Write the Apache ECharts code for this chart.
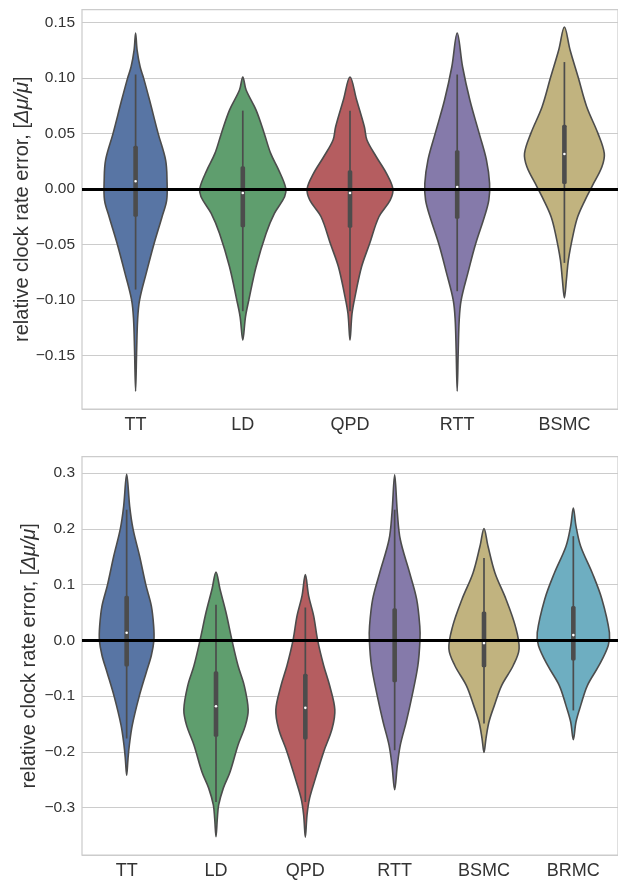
<!DOCTYPE html>
<html>
<head>
<meta charset="utf-8">
<script src="https://cdn.jsdelivr.net/npm/echarts@6/dist/echarts.min.js"></script>
<style>
html, body { margin: 0; padding: 0; background: #fff; }
#main { width: 618px; height: 880px; }
</style>
</head>
<body>
<div id="main"></div>
<script>
var topCats = ['TT', 'LD', 'QPD', 'RTT', 'BSMC'];
var botCats = ['TT', 'LD', 'QPD', 'RTT', 'BSMC', 'BRMC'];

var topTicks = [-0.15, -0.10, -0.05, 0, 0.05, 0.10, 0.15];
var topTickLabels = ['\u22120.15', '\u22120.10', '\u22120.05', '0.00', '0.05', '0.10', '0.15'];
var botTicks = [-0.3, -0.2, -0.1, 0, 0.1, 0.2, 0.3];
var botTickLabels = ['\u22120.3', '\u22120.2', '\u22120.1', '0.0', '0.1', '0.2', '0.3'];

var topColors = ['#5875a4', '#5f9e6e', '#b55d60', '#857aaa', '#c1b37f'];
var botColors = ['#5875a4', '#5f9e6e', '#b55d60', '#857aaa', '#c1b37f', '#6eaec1'];

// violin outlines, top to bottom: [value, half width as share of the category band]
var topTT = [[0.1403, 0], [0.125, 0.014], [0.11, 0.042], [0.10, 0.074], [0.08, 0.13], [0.05, 0.21], [0.026, 0.28], [0.008, 0.293], [-0.01, 0.29], [-0.025, 0.247], [-0.05, 0.17], [-0.0755, 0.10], [-0.10, 0.037], [-0.1175, 0.019], [-0.144, 0.01], [-0.182, 0]];
var topLD = [[0.1007, 0], [0.089, 0.031], [0.071, 0.124], [0.05, 0.20], [0.032, 0.26], [0.017, 0.335], [0.001, 0.40], [-0.007, 0.39], [-0.022, 0.295], [-0.04, 0.217], [-0.07, 0.124], [-0.10, 0.056], [-0.115, 0.025], [-0.136, 0]];
var topQPD = [[0.1007, 0], [0.08, 0.062], [0.056, 0.134], [0.044, 0.158], [0.029, 0.245], [0.014, 0.34], [0, 0.40], [-0.01, 0.375], [-0.025, 0.27], [-0.05, 0.18], [-0.07, 0.108], [-0.094, 0.053], [-0.112, 0.019], [-0.136, 0]];
var topRTT = [[0.1403, 0], [0.11, 0.05], [0.08, 0.118], [0.05, 0.205], [0.026, 0.273], [0.005, 0.302], [-0.01, 0.295], [-0.025, 0.254], [-0.05, 0.17], [-0.0755, 0.10], [-0.10, 0.037], [-0.1175, 0.019], [-0.144, 0.01], [-0.182, 0]];
var topBSMC = [[0.1457, 0], [0.125, 0.053], [0.10, 0.13], [0.074, 0.208], [0.05, 0.313], [0.032, 0.372], [0.02, 0.35], [0.0024, 0.258], [-0.01, 0.193], [-0.025, 0.124], [-0.04, 0.084], [-0.064, 0.037], [-0.0815, 0.019], [-0.098, 0]];

var botTT = [[0.298, 0], [0.24, 0.034], [0.20, 0.071], [0.151, 0.145], [0.10, 0.214], [0.062, 0.276], [0.026, 0.302], [0, 0.305], [-0.027, 0.276], [-0.057, 0.22], [-0.10, 0.141], [-0.152, 0.063], [-0.188, 0.03], [-0.212, 0.015], [-0.242, 0]];
var botLD = [[0.1226, 0], [0.0917, 0.045], [0.05, 0.112], [0, 0.179], [-0.045, 0.246], [-0.081, 0.316], [-0.124, 0.36], [-0.152, 0.33], [-0.188, 0.246], [-0.236, 0.157], [-0.265, 0.082], [-0.295, 0.03], [-0.319, 0.015], [-0.352, 0]];
var botQPD = [[0.118, 0], [0.08, 0.037], [0.044, 0.093], [0, 0.138], [-0.045, 0.205], [-0.081, 0.272], [-0.124, 0.33], [-0.158, 0.30], [-0.20, 0.205], [-0.248, 0.112], [-0.283, 0.048], [-0.313, 0.019], [-0.353, 0]];
var botRTT = [[0.297, 0], [0.229, 0.03], [0.181, 0.063], [0.121, 0.168], [0.074, 0.246], [0.026, 0.281], [0, 0.283], [-0.045, 0.26], [-0.10, 0.194], [-0.146, 0.13], [-0.188, 0.063], [-0.224, 0.03], [-0.268, 0]];
var botBSMC = [[0.2006, 0], [0.169, 0.045], [0.121, 0.123], [0.074, 0.246], [0.026, 0.35], [-0.015, 0.393], [-0.045, 0.327], [-0.081, 0.197], [-0.117, 0.115], [-0.146, 0.056], [-0.176, 0.022], [-0.201, 0]];
var botBRMC = [[0.2375, 0], [0.205, 0.03], [0.169, 0.082], [0.121, 0.212], [0.074, 0.32], [0.014, 0.404], [-0.0095, 0.39], [-0.045, 0.287], [-0.081, 0.157], [-0.117, 0.082], [-0.146, 0.03], [-0.178, 0]];

// box stats: [lower whisker, q1, median, q3, upper whisker]
var topStats = [
  [-0.0905, -0.025, 0.007, 0.039, 0.103],
  [-0.11, -0.0345, -0.0036, 0.0204, 0.0705],
  [-0.11, -0.0348, -0.0036, 0.0168, 0.0705],
  [-0.092, -0.0267, 0.0018, 0.0348, 0.103],
  [-0.0665, 0.0045, 0.0315, 0.0579, 0.1142]
];
var botStats = [
  [-0.176, -0.047, 0.0137, 0.08, 0.2345],
  [-0.29, -0.173, -0.118, -0.0554, 0.064],
  [-0.29, -0.178, -0.121, -0.06, 0.059],
  [-0.197, -0.075, 0, 0.0577, 0.2345],
  [-0.149, -0.048, -0.0048, 0.0518, 0.148],
  [-0.1256, -0.036, 0.0095, 0.0619, 0.187]
];

var topShapes = [topTT, topLD, topQPD, topRTT, topBSMC];
var botShapes = [botTT, botLD, botQPD, botRTT, botBSMC, botBRMC];

var edge = '#4c4c4c';
var font = 'Liberation Sans, Arial, sans-serif';

function violinItem(shapes, stats, colors) {
  return function (params, api) {
    var i = api.value(0);
    var band = api.size([1, 0])[0];
    var cx = api.coord([i, 0])[0];
    var outline = shapes[i];
    var right = [], left = [];
    outline.forEach(function (p, k) {
      var y = api.coord([i, p[0]])[1];
      right.push([cx + p[1] * band, y]);
      if (k > 0 && k < outline.length - 1) left.unshift([cx - p[1] * band, y]);
    });
    var s = stats[i];
    var yLo = api.coord([i, s[0]])[1], yQ1 = api.coord([i, s[1]])[1];
    var yMed = api.coord([i, s[2]])[1], yQ3 = api.coord([i, s[3]])[1];
    var yHi = api.coord([i, s[4]])[1];
    return {
      type: 'group',
      children: [
        { type: 'polygon', shape: { points: right.concat(left), smooth: 0.35 },
          style: { fill: colors[i], stroke: edge, lineWidth: 1.6 } },
        { type: 'line', shape: { x1: cx, y1: yHi, x2: cx, y2: yLo },
          style: { stroke: edge, lineWidth: 1.7 } },
        { type: 'rect', shape: { x: cx - 2.3, y: yQ3, width: 4.6, height: yQ1 - yQ3, r: 1.5 },
          style: { fill: edge } },
        { type: 'circle', shape: { cx: cx, cy: yMed, r: 1.3 }, style: { fill: '#fff' } }
      ]
    };
  };
}

function tickFormatter(ticks, labels) {
  return function (v) {
    for (var k = 0; k < ticks.length; k++) {
      if (Math.abs(ticks[k] - v) < 1e-9) return labels[k];
    }
    return '';
  };
}

function yAxisFor(gridIndex, min, max, ticks, labels, gap) {
  return {
    gridIndex: gridIndex, type: 'value', min: min, max: max, splitNumber: 7,
    name: 'relative clock rate error, [{i|\u0394\u03bc/\u03bc}]',
    nameLocation: 'middle', nameRotate: 90, nameGap: gap, nameMoveOverlap: false,
    nameTextStyle: { fontSize: 20, color: '#333', fontFamily: font,
      rich: { i: { fontSize: 20, fontStyle: 'italic', color: '#333', fontFamily: font } } },
    axisLine: { show: false }, axisTick: { show: false },
    axisLabel: { fontSize: 15.5, color: '#333', fontFamily: font, margin: 7,
      showMinLabel: false, showMaxLabel: false, formatter: tickFormatter(ticks, labels) },
    splitLine: { show: true, lineStyle: { color: '#cccccc', width: 1 } }
  };
}

function xAxisFor(gridIndex, cats) {
  return {
    gridIndex: gridIndex, type: 'category', data: cats, boundaryGap: true,
    axisLine: { show: false }, axisTick: { show: false }, splitLine: { show: false },
    axisLabel: { fontSize: 18, color: '#333', fontFamily: font, margin: 7 }
  };
}

var chart = echarts.init(document.getElementById('main'), null, { renderer: 'canvas' });
chart.setOption({
  backgroundColor: '#fff',
  animation: false,
  grid: [
    { left: 82, top: 9.5, width: 537.5, height: 399.5, show: true, borderColor: '#cccccc', borderWidth: 1.25, backgroundColor: 'transparent' },
    { left: 82, top: 456.7, width: 537, height: 400, show: true, borderColor: '#cccccc', borderWidth: 1.25, backgroundColor: 'transparent' }
  ],
  xAxis: [xAxisFor(0, topCats), xAxisFor(1, botCats)],
  yAxis: [
    yAxisFor(0, -0.198, 0.1615, topTicks, topTickLabels, 50),
    yAxisFor(1, -0.385, 0.3296, botTicks, botTickLabels, 43)
  ],
  series: [
    { type: 'custom', xAxisIndex: 0, yAxisIndex: 0, z: 2,
      renderItem: violinItem(topShapes, topStats, topColors),
      data: topCats.map(function (c, i) { return [i, 0]; }) },
    { type: 'custom', xAxisIndex: 1, yAxisIndex: 1, z: 2,
      renderItem: violinItem(botShapes, botStats, botColors),
      data: botCats.map(function (c, i) { return [i, 0]; }) },
    { type: 'line', xAxisIndex: 0, yAxisIndex: 0, data: [], z: 5,
      markLine: { silent: true, symbol: 'none', label: { show: false },
        lineStyle: { color: '#000', width: 3, type: 'solid' }, data: [{ yAxis: 0 }] } },
    { type: 'line', xAxisIndex: 1, yAxisIndex: 1, data: [], z: 5,
      markLine: { silent: true, symbol: 'none', label: { show: false },
        lineStyle: { color: '#000', width: 3, type: 'solid' }, data: [{ yAxis: 0 }] } }
  ]
});
</script>
</body>
</html>
